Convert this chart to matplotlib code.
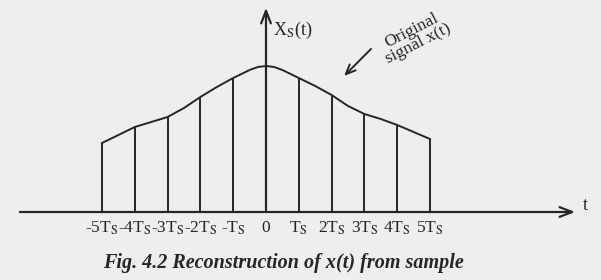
import matplotlib
matplotlib.use("Agg")
import matplotlib.pyplot as plt

# Data
sample_n = [-5, -4, -3, -2, -1, 0, 1, 2, 3, 4, 5]
sample_vals = [69, 85, 95, 115, 134, 146, 134, 117, 98, 87, 73]
tick_labels = [r"-5T$_\mathrm{S}$", r"-4T$_\mathrm{S}$", r"-3T$_\mathrm{S}$", r"-2T$_\mathrm{S}$",
               r"-T$_\mathrm{S}$", "0", r"T$_\mathrm{S}$", r"2T$_\mathrm{S}$", r"3T$_\mathrm{S}$",
               r"4T$_\mathrm{S}$", r"5T$_\mathrm{S}$"]
# original signal curve (incl. half-step points)
curve_t = [-5, -4.5, -4, -3.5, -3, -2.5, -2, -1.5, -1, -0.5, -0.25, 0, 0.25, 0.5, 1, 1.5, 2, 2.5, 3, 3.5, 4, 4.5, 5]
curve_x = [69, 77, 85, 90, 95, 104, 115, 125, 134, 142, 145, 146, 145, 142, 134, 126, 117, 106, 98, 93, 87, 80, 73]

plt.rcParams['mathtext.fontset'] = 'stix'
plt.rcParams['font.family'] = ['Liberation Serif', 'DejaVu Serif']

bg = '#eeeeec'
ink = '#262626'
fig = plt.figure(figsize=(6.01, 2.80), dpi=100, facecolor=bg)
ax = fig.add_axes([0, 0, 1, 1])
ax.set_facecolor(bg)
ax.set_xlim(-266 / 32.8, (601 - 266) / 32.8)
ax.set_ylim(-68, 212)
ax.axis('off')

# stems
ax.vlines(sample_n, 0, sample_vals, color=ink, lw=1.4)
# original curve
ax.plot(curve_t, curve_x, color=ink, lw=1.4)

# axes arrows
ax.annotate('', xy=(9.51, 0), xytext=(-7.59, 0),
            arrowprops=dict(arrowstyle='->,head_length=0.9,head_width=0.35', color=ink, lw=1.6))
ax.annotate('', xy=(0, 207), xytext=(0, 0),
            arrowprops=dict(arrowstyle='->,head_length=0.9,head_width=0.35', color=ink, lw=1.6))

ax.text(0.21, 182, r"X$_\mathrm{S}$(t)", fontsize=13, color=ink, ha='left', va='center')
ax.text(9.66, 7, "t", fontsize=13, color=ink, ha='left', va='center')

for n, lab in zip(sample_n, tick_labels):
    ax.text(n, -16, lab, fontsize=12.5, color=ink, ha='center', va='center')

# annotation
ax.text(4.53, 175, "Original\nsignal x(t)", fontsize=12.5, color=ink, ha='center', va='center',
        rotation=27, linespacing=0.85)
ax.annotate('', xy=(2.32, 134), xytext=(3.26, 165),
            arrowprops=dict(arrowstyle='->,head_length=0.7,head_width=0.3', color=ink, lw=1.4))

ax.text(0.52, -51, "Fig. 4.2 Reconstruction of x(t) from sample", fontsize=14.5,
        fontweight='bold', fontstyle='italic', color=ink, ha='center', va='center')

fig.savefig('out.png', dpi=100, facecolor=bg)
